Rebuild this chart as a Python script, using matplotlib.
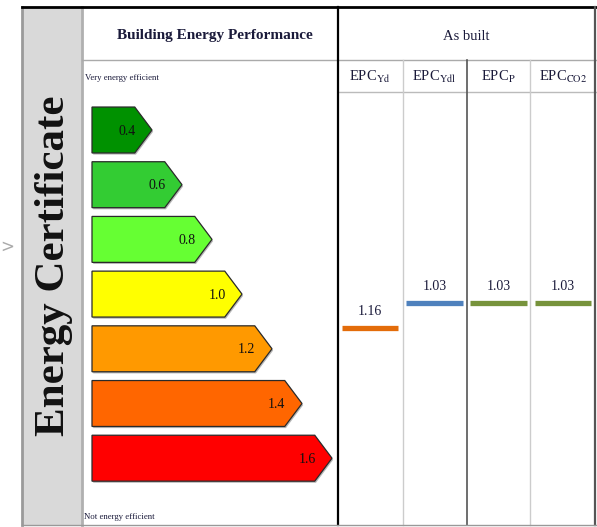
import matplotlib
matplotlib.use("Agg")
import matplotlib.pyplot as plt
from matplotlib.patches import Polygon

# ---- data ----
band_values = [0.4, 0.6, 0.8, 1.0, 1.2, 1.4, 1.6]
band_labels = ["0.4", "0.6", "0.8", "1.0", "1.2", "1.4", "1.6"]
band_colors = ["#009100", "#33CC33", "#66FF33", "#FFFF00", "#FF9900", "#FF6600", "#FF0000"]

epc_names = [r"EPC$_{\mathrm{Yd}}$", r"EPC$_{\mathrm{Ydl}}$", r"EPC$_{\mathrm{P}}$", r"EPC$_{\mathrm{CO2}}$"]
epc_values = [1.16, 1.03, 1.03, 1.03]
epc_colors = ["#E36C0A", "#4F81BD", "#77933C", "#77933C"]

title_left = "Building Energy Performance"
title_right = "As built"
side_title = "Energy Certificate"
top_note = "Very energy efficient"
bottom_note = "Not energy efficient"

plt.rcParams["font.family"] = ["Liberation Serif", "DejaVu Serif"]
plt.rcParams["mathtext.fontset"] = "stix"

W, H = 597, 527
fig = plt.figure(figsize=(W / 100, H / 100), dpi=100)

# background axes in pixel units for frame / table lines
bg = fig.add_axes([0, 0, 1, 1])
bg.set_xlim(0, W)
bg.set_ylim(H, 0)
bg.axis("off")

# gray side column
bg.add_patch(plt.Rectangle((22, 7), 60, 518, facecolor="#D9D9D9", edgecolor="none"))
bg.plot([22, 22], [7, 525], color="#9A9A9A", lw=2)
bg.plot([82, 82], [7, 525], color="#B0B0B0", lw=2)
# top line
bg.plot([22, 596], [7, 7], color="black", lw=2)
# header bottom
bg.plot([82, 596], [60, 60], color="#AAAAAA", lw=1)
# sub header bottom
bg.plot([338, 596], [92, 92], color="#BBBBBB", lw=1)
# middle vertical
bg.plot([338, 338], [7, 525], color="black", lw=1.6)
# right border
bg.plot([595, 595], [7, 525], color="#555555", lw=1.6)
# sub column separators
bg.plot([403, 403], [60, 525], color="#CCCCCC", lw=1)
bg.plot([467, 467], [60, 525], color="#555555", lw=1.2)
bg.plot([530, 530], [60, 525], color="#CCCCCC", lw=1)
# bottom
bg.plot([22, 596], [525, 525], color="#999999", lw=1)

# chevron at the far left
bg.text(7, 247, ">", fontsize=12, color="#AAAAAA", ha="center", va="center",
        family="DejaVu Sans")

# texts
bg.text(54, 266, side_title, rotation=90, fontsize=31, fontweight="bold",
        ha="center", va="center", color="#111111")
bg.text(215, 36, title_left, fontsize=11, fontweight="bold", ha="center", va="center",
        color="#1a1a3a")
bg.text(466, 36, title_right, fontsize=10.5, ha="center", va="center", color="#1a1a3a")
bg.text(85, 78, top_note, fontsize=6.3, ha="left", va="center", color="#1a1a3a")
bg.text(84, 517, bottom_note, fontsize=6.3, ha="left", va="center", color="#1a1a3a")

# ---- left energy bands ----
axL = fig.add_axes([82 / W, 1 - 525 / H, 256 / W, 465 / H])
axL.set_xlim((82 - 92) / 150, (338 - 92) / 150)
axL.set_ylim((525 - 130) / 54.7, (60 - 130) / 54.7)
axL.axis("off")
axL.patch.set_alpha(0)

bh = 0.84
tip = 0.115
for i, (v, lab, c) in enumerate(zip(band_values, band_labels, band_colors)):
    pts = [(0, i - bh / 2), (v - tip, i - bh / 2), (v, i), (v - tip, i + bh / 2), (0, i + bh / 2)]
    # shadow
    sh = Polygon([(x + 0.008, y + 0.03) for x, y in pts], closed=True,
                 facecolor="#888888", edgecolor="none", alpha=0.6, zorder=1)
    axL.add_patch(sh)
    axL.add_patch(Polygon(pts, closed=True, facecolor=c, edgecolor="#2a2a2a", lw=0.9, zorder=2))
    axL.text(v - tip + 0.005, i + 0.02, lab, ha="right", va="center", fontsize=10,
             color="#111111", zorder=3)

# ---- right EPC panel ----
axR = fig.add_axes([338 / W, 1 - 525 / H, 257 / W, 433 / H])
axR.set_xlim(-0.5, 3.5)
axR.set_ylim((525 - 105) / 192.3, (92 - 105) / 192.3)
axR.axis("off")
axR.patch.set_alpha(0)

for j, (name, v, c) in enumerate(zip(epc_names, epc_values, epc_colors)):
    axR.hlines(v, j - 0.44, j + 0.44, color=c, lw=3.8)
    axR.annotate(f"{v:.2f}", (j, v), xytext=(0, 12), textcoords="offset points",
                 ha="center", va="center", fontsize=10, color="#1a1a3a")
    bg.text(338 + 64.25 * (j + 0.5), 77, name, ha="center", va="center", fontsize=10.5,
            color="#1a1a3a")

fig.savefig("out.png", dpi=100)
